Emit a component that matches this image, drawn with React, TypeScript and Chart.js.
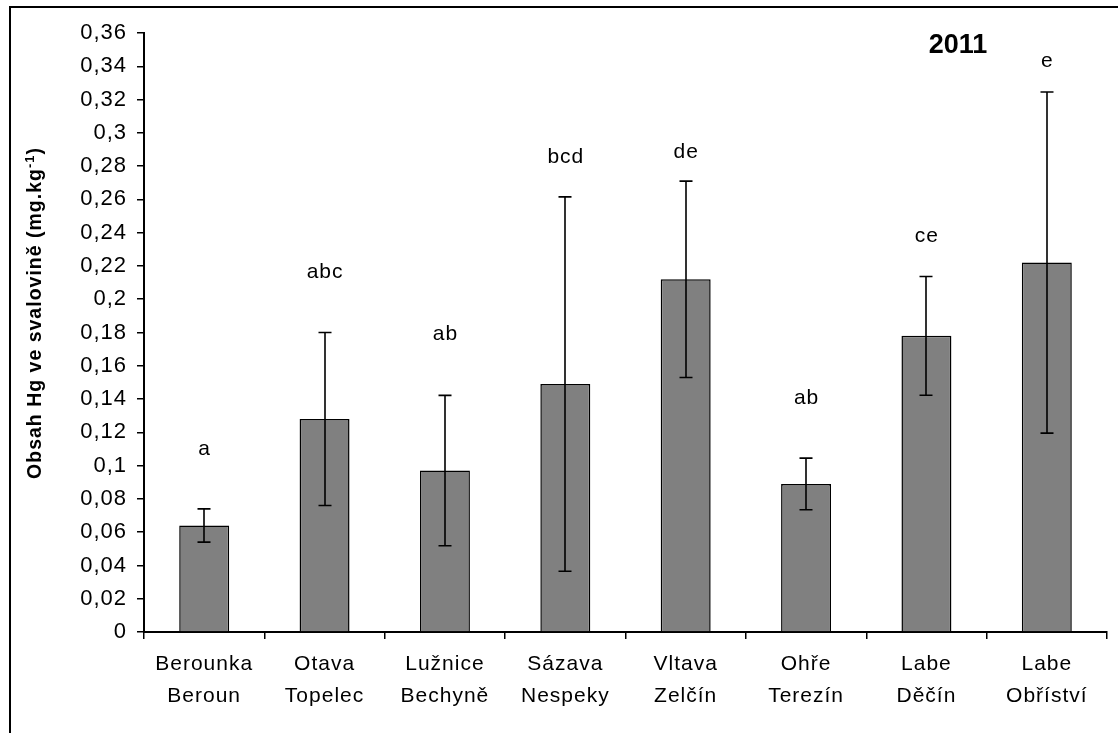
import React, { useEffect, useRef } from "react";
import { Chart, registerables } from "chart.js";

Chart.register(...registerables);

const categories: string[][] = [
  ["Berounka", "Beroun"],
  ["Otava", "Topelec"],
  ["Lužnice", "Bechyně"],
  ["Sázava", "Nespeky"],
  ["Vltava", "Zelčín"],
  ["Ohře", "Terezín"],
  ["Labe", "Děčín"],
  ["Labe", "Obříství"],
];
const means = [0.064, 0.128, 0.097, 0.149, 0.212, 0.089, 0.178, 0.222];
const errors = [0.01, 0.052, 0.0452, 0.1125, 0.059, 0.0155, 0.0357, 0.1025];
const letters = ["a", "abc", "ab", "bcd", "de", "ab", "ce", "e"];
const letterY = [0.1064, 0.2127, 0.1755, 0.2819, 0.2849, 0.137, 0.2344, 0.3396];
const yearLabel = "2011";
const yTitleMain = "Obsah Hg ve svalovině (mg.kg";
const yTitleSup = "-1";
const yTitleEnd = ")";

const FONT = "'Liberation Sans', Arial, sans-serif";

const spacingPlugin = {
  id: "spacing",
  beforeLayout(chart: any) {
    (chart.ctx as any).letterSpacing = "1px";
  },
  beforeDraw(chart: any) {
    (chart.ctx as any).letterSpacing = "1px";
  },
};

const decorPlugin = {
  id: "decor",
  afterDatasetsDraw(chart: any) {
    const ctx = chart.ctx;
    const y = chart.scales.y;
    const meta = chart.getDatasetMeta(0);
    ctx.save();
    ctx.strokeStyle = "#000";
    ctx.lineWidth = 1.6;
    meta.data.forEach((bar: any, i: number) => {
      const x = Math.round(bar.x);
      const top = y.getPixelForValue(means[i] + errors[i]);
      const bot = y.getPixelForValue(means[i] - errors[i]);
      ctx.beginPath();
      ctx.moveTo(x, top);
      ctx.lineTo(x, bot);
      ctx.moveTo(x - 6.5, top);
      ctx.lineTo(x + 6.5, top);
      ctx.moveTo(x - 6.5, bot);
      ctx.lineTo(x + 6.5, bot);
      ctx.stroke();
    });
    (ctx as any).letterSpacing = "1px";
    ctx.fillStyle = "#000";
    ctx.font = `21px ${FONT}`;
    ctx.textAlign = "center";
    ctx.textBaseline = "alphabetic";
    meta.data.forEach((bar: any, i: number) => {
      ctx.fillText(letters[i], bar.x + 0.5, y.getPixelForValue(letterY[i]));
    });
    ctx.restore();
  },
  afterDraw(chart: any) {
    const ctx = chart.ctx;
    ctx.save();
    // outer frame
    ctx.strokeStyle = "#000";
    ctx.lineWidth = 2;
    ctx.beginPath();
    ctx.moveTo(10, 740);
    ctx.lineTo(10, 7);
    ctx.lineTo(1130, 7);
    ctx.stroke();
    // year
    (ctx as any).letterSpacing = "0px";
    ctx.fillStyle = "#000";
    ctx.font = `bold 27px ${FONT}`;
    ctx.textAlign = "center";
    ctx.textBaseline = "alphabetic";
    ctx.fillText(yearLabel, 958, 53);
    // y title
    (ctx as any).letterSpacing = "1px";
    ctx.translate(41, 313);
    ctx.rotate(-Math.PI / 2);
    const mainFont = `bold 19.5px ${FONT}`;
    const supFont = `bold 13px ${FONT}`;
    ctx.font = mainFont;
    const w1 = ctx.measureText(yTitleMain).width;
    const w3 = ctx.measureText(yTitleEnd).width;
    ctx.font = supFont;
    const w2 = ctx.measureText(yTitleSup).width;
    const total = w1 + w2 + w3;
    let x = -total / 2;
    ctx.textAlign = "left";
    ctx.font = mainFont;
    ctx.fillText(yTitleMain, x, 0);
    x += w1;
    ctx.font = supFont;
    ctx.fillText(yTitleSup, x, -7);
    x += w2;
    ctx.font = mainFont;
    ctx.fillText(yTitleEnd, x, 0);
    ctx.restore();
  },
};

export default function App() {
  const ref = useRef<HTMLCanvasElement>(null);
  useEffect(() => {
    if (!ref.current) return;
    const chart = new Chart(ref.current, {
      type: "bar",
      data: {
        labels: categories,
        datasets: [
          {
            data: means,
            backgroundColor: "#808080",
            borderColor: "#000",
            borderWidth: 1.5,
            barPercentage: 0.415,
            categoryPercentage: 1,
          },
        ],
      },
      options: {
        responsive: false,
        animation: false,
        devicePixelRatio: 1,
        layout: { padding: { top: 33, right: 11, left: 0, bottom: 0 } },
        plugins: {
          legend: { display: false },
          tooltip: { enabled: false },
          title: { display: false },
        },
        scales: {
          x: {
            afterFit: (s: any) => {
              s.height = 101;
            },
            grid: {
              drawOnChartArea: false,
              drawTicks: true,
              tickLength: 7,
              color: "#000",
              lineWidth: 1.5,
              offset: true,
            },
            border: { display: true, color: "#000", width: 2 },
            ticks: {
              color: "#000",
              font: { family: FONT, size: 21, lineHeight: 1.52 },
              padding: 9,
              maxRotation: 0,
              autoSkip: false,
            },
          },
          y: {
            min: 0,
            max: 0.36,
            afterFit: (s: any) => {
              s.width = 144;
            },
            grid: {
              drawOnChartArea: false,
              drawTicks: true,
              tickLength: 7,
              color: "#000",
              lineWidth: 1.5,
            },
            border: { display: true, color: "#000", width: 2 },
            ticks: {
              stepSize: 0.02,
              color: "#000",
              font: { family: FONT, size: 22 },
              padding: 10,
              callback: (v: any) =>
                String(parseFloat(Number(v).toFixed(2))).replace(".", ","),
            },
          },
        },
      },
      plugins: [spacingPlugin, decorPlugin],
    });
    return () => chart.destroy();
  }, []);
  return (
    <div style={{ position: "fixed", left: 0, top: 0, width: 1118, height: 733, background: "#fff" }}>
      <canvas ref={ref} width={1118} height={733} />
    </div>
  );
}
